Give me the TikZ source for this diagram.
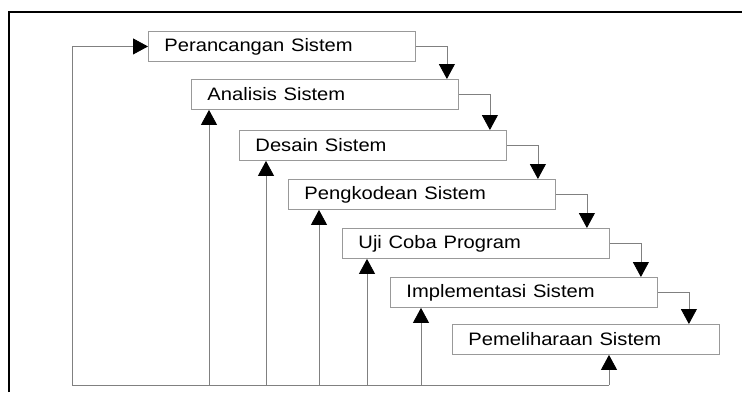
\documentclass[tikz,border=0pt]{standalone}
\usepackage{fontspec}
\newfontfamily\tahapfont{Liberation Sans}
\newcommand\lebar[1]{\scalebox{1.12}[1]{#1}}
\usepackage{tikz}
\usetikzlibrary{calc,arrows.meta,positioning}

\begin{document}
\begin{tikzpicture}[x=1pt,y=-1pt,
  tahap/.style={draw=black!40,line width=0.9pt,anchor=north west,minimum height=30pt,
    text width=235pt,inner xsep=16pt,inner ysep=0pt,align=left,
    font=\tahapfont\fontsize{18}{21}\selectfont},
  alur/.style={draw=black!50,line width=0.8pt,-{Triangle[width=16pt,length=15pt,color=black]}},
  garis/.style={draw=black!40,line width=0.9pt}]
  \useasboundingbox (0,0) rectangle (742,392);
  % bingkai
  \draw[line width=2.2pt] (9,392) -- (9,12) -- (742,12);

  \node[tahap] (b1) at (148,31) {\lebar{Perancangan Sistem}};
  \node[tahap] (b2) at (191,79) {\lebar{Analisis Sistem}};
  \node[tahap] (b3) at (239,130) {\lebar{Desain Sistem}};
  \node[tahap] (b4) at (288,179) {\lebar{Pengkodean Sistem}};
  \node[tahap] (b5) at (342,228) {\lebar{Uji Coba Program}};
  \node[tahap] (b6) at (390,277) {\lebar{Implementasi Sistem}};
  \node[tahap] (b7) at (452,324) {\lebar{Pemeliharaan Sistem}};

  % alur turun
  \foreach \i/\j in {1/2,2/3,3/4,4/5,5/6,6/7}{
    \draw[alur] (b\i.east) -- ++(31,0) coordinate (t\i) -- (t\i |- b\j.north);
  }

  % alur balik
  \coordinate (c0) at (72,385);
  \coordinate (u2) at (209,385);
  \coordinate (u3) at (266,385);
  \coordinate (u4) at (319,385);
  \coordinate (u5) at (367,385);
  \coordinate (u6) at (421,385);
  \coordinate (u7) at (609,385);
  \draw[alur] (u7) -- (c0) |- (b1.west);
  \foreach \j in {2,...,7}{
    \draw[alur] (u\j) -- (u\j |- b\j.south);
  }
\end{tikzpicture}
\end{document}
